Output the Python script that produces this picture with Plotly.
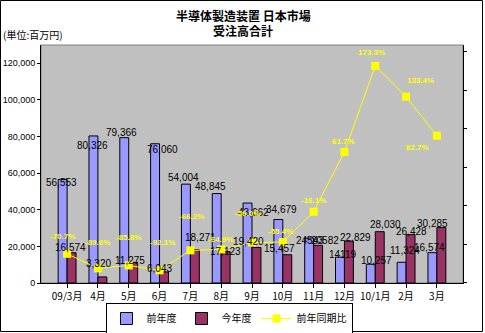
import plotly.graph_objects as go

categories = ["09/3月", "4月", "5月", "6月", "7月", "8月", "9月", "10月", "11月", "12月", "10/1月", "2月", "3月"]
prev_year = [56553, 80326, 79366, 76060, 54004, 48845, 43662, 34679, 24543, 14119, 10257, 11324, 16574]
this_year = [16574, 3320, 11275, 6043, 18271, 17123, 19420, 15457, 20582, 22829, 28030, 26428, 30285]
yoy_pct = [-70.7, -89.6, -85.8, -92.1, -66.2, -64.9, -56.0, -55.4, -16.1, 61.7, 173.3, 133.4, 82.7]
prev_labels = ["56,553", "80,326", "79,366", "76,060", "54,004", "48,845", "43,662", "34,679", "24543", "14119", "10,257", "11,324", "16,574"]
this_labels = ["16,574", "3,320", "11,275", "6,043", "18,271", "17,123", "19,420", "15,457", "20582", "22,829", "28,030", "26,428", "30,285"]
yoy_labels = ["-70.7%", "-89.6%", "-85.8%", "-92.1%", "-66.2%", "-64.9%", "-56.0%", "-55.4%", "-16.1%", "61.7%", "173.3%", "133.4%", "82.7%"]
tick_vals = [0, 20000, 40000, 60000, 80000, 100000, 120000]
tick_text = ["0", "20,000", "40,000", "60,000", "80,000", "100,000", "120,000"]
title_lines = ["半導体製造装置 日本市場", "受注高合計"]
unit_text = "(単位:百万円)"

# label placement offsets (pixels, style only)
prev_dx = [-6, -5, -7, 3, -7, -11, 1, -1, -4, -1, 1, -1, -7]
prev_dy = [3, 10, -5, 6, -7, -7, 9, -10, 2, -3, -4, -12, -5]
this_dx = [3, 1, 1, 0, 10, 4, -4, -3, 11, 11, 10, 5, -4]
this_dy = [-5, -13, -2, -3, -12, 0, -6, -6, -5, -4, -7, -3, -4]
yoy_dx = [-5, 0, 0, 3, 1, -1, -5, -2, 0, -1, -4, 14, -19]
yoy_dy = [-17, -26, -28, -28, -34, -10, -29, -11, -11, -10, -13, -16, 12]

SANS = "Liberation Sans, Arial, sans-serif"
CJK = "Noto Sans CJK JP, sans-serif"

# plot area in pixels
L, R, T, B = 41, 463, 45, 283
W, H = R - L, B - T


def px(xp):
    return (xp - L) / W


def py(yp):
    return (B - yp) / H


fig = go.Figure()
fig.add_trace(go.Bar(x=categories, y=prev_year, name="前年度",
                     marker=dict(color="#9999FF", line=dict(color="black", width=1))))
fig.add_trace(go.Bar(x=categories, y=this_year, name="今年度",
                     marker=dict(color="#993366", line=dict(color="black", width=1))))
fig.add_trace(go.Scatter(x=categories, y=yoy_pct, name="前年同期比", yaxis="y2",
                         mode="lines+markers",
                         line=dict(color="#FFFF00", width=1),
                         marker=dict(color="#FFFF00", symbol="square", size=8)))

ann = []
for i, c in enumerate(categories):
    ann.append(dict(x=c, y=prev_year[i], xref="x", yref="y", text=prev_labels[i],
                    showarrow=False, xshift=prev_dx[i], yshift=-prev_dy[i],
                    font=dict(size=10, color="black", family=SANS)))
    ann.append(dict(x=c, y=this_year[i], xref="x", yref="y", text=this_labels[i],
                    showarrow=False, xshift=this_dx[i], yshift=-this_dy[i],
                    font=dict(size=10, color="black", family=SANS)))
    ann.append(dict(x=c, y=yoy_pct[i], xref="x", yref="y2", text="<b>" + yoy_labels[i] + "</b>",
                    showarrow=False, xshift=yoy_dx[i], yshift=-yoy_dy[i],
                    font=dict(size=8, color="#FFFF00", family=SANS)))

ann.append(dict(x=px(1), y=py(35), xref="paper", yref="paper",
                xanchor="left", yanchor="middle",
                text=unit_text, showarrow=False,
                font=dict(size=10, color="black", family=CJK)))
ann.append(dict(x=px(243), y=py(15), xref="paper", yref="paper",
                xanchor="center", yanchor="middle",
                text="<b>" + title_lines[0] + "</b>", showarrow=False,
                font=dict(size=12, color="black", family=CJK)))
ann.append(dict(x=px(243), y=py(30), xref="paper", yref="paper",
                xanchor="center", yanchor="middle",
                text="<b>" + title_lines[1] + "</b>", showarrow=False,
                font=dict(size=12, color="black", family=CJK)))

fig.update_layout(
    width=485, height=333,
    margin=dict(l=L, r=485 - R, t=T, b=333 - B, autoexpand=False),
    paper_bgcolor="white",
    plot_bgcolor="#C0C0C0",
    barmode="group", bargap=0.42, bargroupgap=0,
    xaxis=dict(showgrid=False, showline=True, linecolor="black", linewidth=1,
               ticks="outside", ticklen=4, tickcolor="black", tickangle=0,
               tickfont=dict(size=10, color="black", family=CJK)),
    yaxis=dict(range=[0, 130000], tickvals=tick_vals, ticktext=tick_text,
               showgrid=False, showline=True, linecolor="black", linewidth=1,
               ticks="outside", ticklen=3, tickcolor="black", zeroline=False,
               tickfont=dict(size=9, color="black", family=SANS)),
    yaxis2=dict(overlaying="y", side="right", range=[-108.6, 200.5],
                tick0=-8.3, dtick=49.93, showticklabels=False, showgrid=False,
                showline=True, linecolor="black", linewidth=1,
                ticks="outside", ticklen=3, tickcolor="black", zeroline=False),
    legend=dict(orientation="h", x=px(229), xanchor="center", y=py(303), yanchor="top",
                bordercolor="black", borderwidth=1, bgcolor="white",
                font=dict(size=10, color="black", family=CJK),
                itemwidth=30, tracegroupgap=0),
    showlegend=True,
    annotations=ann,
    shapes=[
        dict(type="rect", xref="paper", yref="paper", x0=0, x1=1, y0=0, y1=1,
             line=dict(color="#808080", width=1), layer="below"),
        dict(type="rect", xref="paper", yref="paper",
             x0=px(0.5), x1=px(482.5), y0=py(331.5), y1=py(0.5),
             line=dict(color="black", width=1)),
    ],
)

fig.write_html("out.html")
